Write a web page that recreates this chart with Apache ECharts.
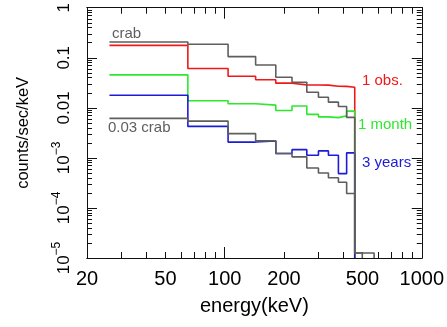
<!DOCTYPE html>
<html><head><meta charset="utf-8">
<script src="https://cdn.jsdelivr.net/npm/echarts@6/dist/echarts.min.js"></script>
<style>html,body{margin:0;padding:0;background:#fff}#c{width:447px;height:327px}</style>
</head><body><div id="c"></div>
<script>
// bin edges (keV)
const edges = [26, 65, 104, 143.5, 181.6, 219.5, 261, 299, 336, 377.6, 415.7, 457];
// counts/sec/keV per bin
const crab   = [0.207, 0.186, 0.1057, 0.0716, 0.0409, 0.0325, 0.0205, 0.0163, 0.0130, 0.01066, 0.00644];
const crab003 = [0.00615, 0.00543, 0.00305, 0.00219, 0.00122, 0.00105, 0.00063, 0.00050, 0.00040, 0.000325, 0.000195];
const obs1   = [0.177, 0.0609, 0.0428, 0.0365, 0.0311, 0.0288, 0.0286, 0.0284, 0.0270, 0.0268, 0.0257];
const month1 = [0.0456, 0.01384, 0.01207, 0.01132, 0.00887, 0.01091, 0.00739, 0.00659, 0.00638, 0.0069, 0.00859];
const years3 = [0.0179, 0.00426, 0.00207, 0.00217, 0.00122, 0.00146, 0.001127, 0.00138, 0.001127, 0.000486, 0.00126];
// tail bins above the cutoff
const crabTailEdges = [457, 573];
const crabTail = [1.26e-5];
const crab003TailEdges = [457, 499];
const crab003Tail = [1.26e-5];
const FLOOR = 1e-5;

// tick / label values
const xLabelVals = [20, 50, 100, 200, 500, 1000];
const xMajorTicks = [100, 1000];
const xMinorTicks = [20, 30, 40, 50, 60, 70, 80, 90, 200, 300, 400, 500, 600, 700, 800, 900];
const yMajor = [1e-5, 1e-4, 1e-3, 1e-2, 1e-1, 1];
const yMinor = [];
for (let k = -5; k <= -1; k++) for (let m = 2; m <= 9; m++) yMinor.push(m * Math.pow(10, k));

function steps(ed, vals, tailEd, tailVals) {
  const pts = [];
  for (let i = 0; i < vals.length; i++) pts.push([ed[i], vals[i]]);
  pts.push([ed[vals.length], vals[vals.length - 1]]);
  if (tailVals) {
    for (let i = 0; i < tailVals.length; i++) pts.push([tailEd[i], tailVals[i]]);
    pts.push([tailEd[tailVals.length], tailVals[tailVals.length - 1]]);
    pts.push([tailEd[tailVals.length], FLOOR]);
  } else {
    pts.push([ed[vals.length], FLOOR]);
  }
  return pts;
}

const GRAY = '#5e5e5e', RED = '#f01818', GREEN = '#2ee82e', BLUE = '#1c1cd8';
const FONT = 'Liberation Sans, Arial, Helvetica, sans-serif';
const AX = '#111';

function xAx(pos, ticks, len, labels, extra) {
  return Object.assign({
    type: 'log', logBase: 10, min: 20, max: 1000, position: pos,
    axisLine: { show: true, lineStyle: { color: AX, width: 1 } },
    axisTick: { show: true, inside: true, length: len, customValues: ticks, lineStyle: { color: AX, width: 1 } },
    axisLabel: labels ? { show: true, customValues: labels, fontSize: 20, color: '#000', fontFamily: FONT, margin: 11,
      formatter: function (v) { return String(Math.round(v)); } } : { show: false },
    splitLine: { show: false }, minorTick: { show: false }
  }, extra || {});
}
function yAx(pos, ticks, len, labels, extra) {
  return Object.assign({
    type: 'log', logBase: 10, min: 1e-5, max: 1, position: pos,
    axisLine: { show: true, lineStyle: { color: AX, width: 1 } },
    axisTick: { show: true, inside: true, length: len, customValues: ticks, lineStyle: { color: AX, width: 1 } },
    axisLabel: labels ? {
      show: true, customValues: labels, rotate: 90, margin: 14, color: '#000', fontFamily: FONT, fontSize: 17,
      formatter: function (v) {
        const e = Math.round(Math.log10(v));
        if (e >= -2) return '{b|' + (e === 0 ? '1' : e === -1 ? '0.1' : '0.01') + '}';
        return '{b|10}{s|\u2212' + (-e) + '}';
      },
      rich: {
        b: { fontSize: 17, fontFamily: FONT, color: '#000', lineHeight: 22, verticalAlign: 'bottom' },
        s: { fontSize: 12, fontFamily: FONT, color: '#000', lineHeight: 12, verticalAlign: 'top' }
      }
    } : { show: false },
    splitLine: { show: false }, minorTick: { show: false }
  }, extra || {});
}

const chart = echarts.init(document.getElementById('c'), null, { renderer: 'canvas' });
function ser(name, data, color) {
  return { name: name, type: 'line', step: 'end', data: data, showSymbol: false, symbol: 'none',
    xAxisIndex: 0, yAxisIndex: 0, lineStyle: { color: color, width: 1.6 }, itemStyle: { color: color },
    animation: false, clip: true };
}
chart.setOption({
  animation: false,
  backgroundColor: '#fff',
  grid: { left: 87, right: 23, top: 7, bottom: 69, containLabel: false },
  xAxis: [
    xAx('bottom', xMinorTicks, 6, xLabelVals, { name: 'energy(keV)', nameLocation: 'middle', nameGap: 38,
      nameTextStyle: { fontSize: 20, color: '#000', fontFamily: FONT } }),
    xAx('bottom', xMajorTicks, 11, null),
    xAx('top', xMinorTicks, 6, null),
    xAx('top', xMajorTicks, 11, null)
  ],
  yAxis: [
    yAx('left', yMinor, 5, yMajor, { name: 'counts/sec/keV', nameLocation: 'middle', nameGap: 55,
      nameTextStyle: { fontSize: 16.5, color: '#000', fontFamily: FONT } }),
    yAx('left', yMajor, 10, null),
    yAx('right', yMinor, 5, null),
    yAx('right', yMajor, 10, null)
  ],
  series: [
    ser('1 obs.', steps(edges, obs1), RED),
    ser('1 month', steps(edges, month1), GREEN),
    ser('3 years', steps(edges, years3), BLUE),
    ser('0.03 crab', steps(edges, crab003, crab003TailEdges, crab003Tail), GRAY),
    ser('crab', steps(edges, crab, crabTailEdges, crabTail), GRAY)
  ],
  graphic: [
    { type: 'text', x: 112, y: 34, style: { text: 'crab', fill: GRAY, font: '15px ' + FONT, verticalAlign: 'middle' } },
    { type: 'text', x: 108, y: 128, style: { text: '0.03 crab', fill: GRAY, font: '15px ' + FONT, verticalAlign: 'middle' } },
    { type: 'text', x: 362, y: 81, style: { text: '1 obs.', fill: RED, font: '15px ' + FONT, verticalAlign: 'middle' } },
    { type: 'text', x: 358, y: 125, style: { text: '1 month', fill: GREEN, font: '15px ' + FONT, verticalAlign: 'middle' } },
    { type: 'text', x: 362, y: 163, style: { text: '3 years', fill: BLUE, font: '15px ' + FONT, verticalAlign: 'middle' } }
  ]
});
</script></body></html>
